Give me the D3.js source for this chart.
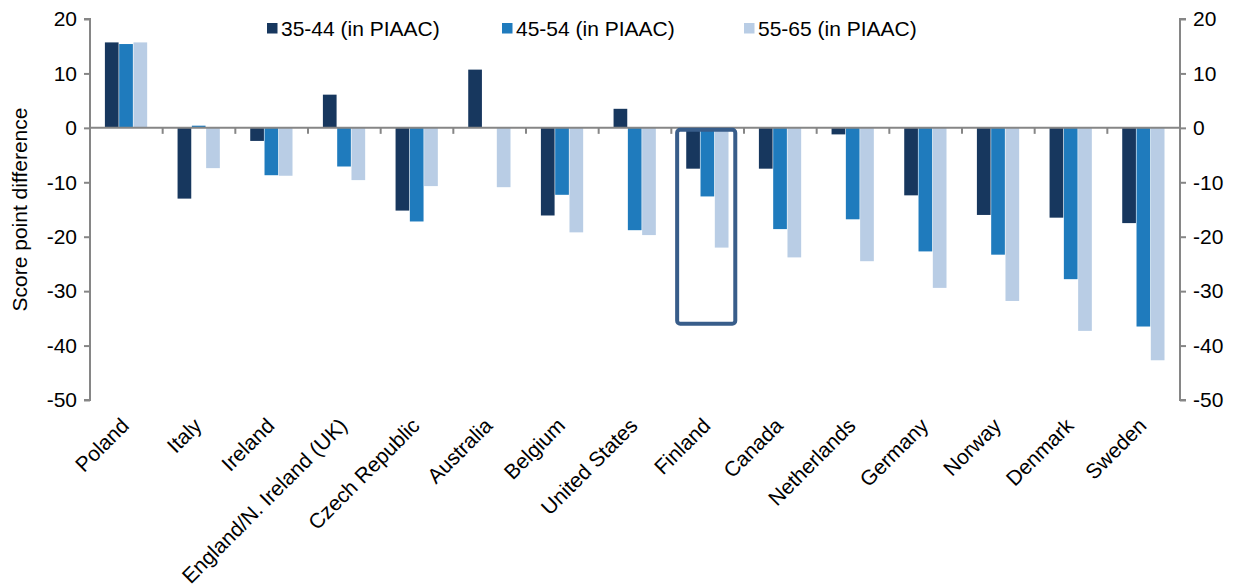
<!DOCTYPE html>
<html><head><meta charset="utf-8">
<script src="https://cdn.jsdelivr.net/npm/d3@7"></script>
<style>
html,body{margin:0;padding:0;background:#fff;}
text{font-family:"Liberation Sans",Arial,sans-serif;fill:#000;}
</style></head>
<body>
<svg id="chart" width="1236" height="584"></svg>
<script>
const categories = ["Poland","Italy","Ireland","England/N. Ireland (UK)","Czech Republic","Australia","Belgium","United States","Finland","Canada","Netherlands","Germany","Norway","Denmark","Sweden"];
const seriesNames = ["35-44 (in PIAAC)","45-54 (in PIAAC)","55-65 (in PIAAC)"];
const age3544 = [15.7, -13.0, -2.4, 6.1, -15.2, 10.7, -16.1, 3.5, -7.5, -7.5, -1.2, -12.4, -16.0, -16.5, -17.5];
const age4554 = [15.4, 0.4, -8.7, -7.1, -17.2, null, -12.3, -18.8, -12.6, -18.6, -16.8, -22.7, -23.3, -27.8, -36.5];
const age5565 = [15.7, -7.4, -8.8, -9.6, -10.7, -10.9, -19.2, -19.7, -22.0, -23.8, -24.5, -29.4, -31.8, -37.3, -42.7];
const yTicks = [20, 10, 0, -10, -20, -30, -40, -50];
const highlight = {category: "Finland", top: 0, bottom: -36};
const colors = ["#17375e", "#1f7bbd", "#b9cde5"];

const series = [age3544, age4554, age5565];
const svg = d3.select("#chart");
const L = 90, R = 1180, T = 19, B = 400;
const FS = 21;
const axisColor = "#868686";

const x0 = d3.scaleBand().domain(categories).range([L, R]).paddingInner(0).paddingOuter(0);
const bw = x0.bandwidth();
const groupW = bw * 0.59;
const x1 = d3.scaleBand().domain(d3.range(3)).range([(bw - groupW) / 2, (bw + groupW) / 2]);
const y = d3.scaleLinear().domain([-50, 20]).range([B, T]);

// bars
const g = svg.append("g");
categories.forEach((c, i) => {
  series.forEach((s, k) => {
    const v = s[i];
    if (v === null || v === undefined) return;
    g.append("rect")
      .attr("x", x0(c) + x1(k))
      .attr("width", x1.bandwidth() - 0.6)
      .attr("y", y(Math.max(0, v)))
      .attr("height", Math.abs(y(v) - y(0)))
      .attr("fill", colors[k]);
  });
});

// axes
const fmt = d => String(d);
const leftAxis = d3.axisLeft(y).tickValues(yTicks).tickSize(6).tickPadding(7).tickFormat(fmt);
const la = svg.append("g").attr("transform", `translate(${L},0)`).call(leftAxis);
const rightAxis = d3.axisRight(y).tickValues(yTicks).tickSize(6).tickPadding(7).tickFormat(fmt);
const ra = svg.append("g").attr("transform", `translate(${R},0)`).call(rightAxis);
[la, ra].forEach(a => {
  a.select(".domain").attr("stroke", axisColor).attr("stroke-width", 2);
  a.selectAll(".tick line").attr("stroke", axisColor).attr("stroke-width", 2);
  a.selectAll(".tick text").attr("font-size", FS).attr("font-family", "Liberation Sans, Arial, sans-serif").attr("fill", "#000");
});
la.select(".domain").attr("d", `M-6,${T}H0V${B}H-6`);
ra.select(".domain").attr("d", `M6,${T}H0V${B}H6`);

// zero line with category ticks
const xAxis = d3.axisBottom(x0).tickSize(0).tickFormat("");
const xa = svg.append("g").attr("transform", `translate(0,${y(0)})`).call(xAxis);
xa.select(".domain").attr("stroke", axisColor).attr("stroke-width", 2).attr("d", `M${L},0H${R}`);
categories.slice(1).forEach(c => {
  xa.append("line").attr("x1", x0(c)).attr("x2", x0(c)).attr("y1", 0).attr("y2", 6)
    .attr("stroke", axisColor).attr("stroke-width", 2);
});

// category labels
categories.forEach(c => {
  const cx = x0(c) + bw / 2;
  svg.append("text")
    .attr("transform", `translate(${cx + 4},${427}) rotate(-45)`)
    .attr("text-anchor", "end")
    .attr("font-size", FS)
    .text(c);
});

// y label
svg.append("text")
  .attr("transform", `translate(27,${(T + B) / 2}) rotate(-90)`)
  .attr("text-anchor", "middle")
  .attr("font-size", FS)
  .text("Score point difference");

// legend
const legendX = [267, 502, 744];
seriesNames.forEach((n, k) => {
  svg.append("rect").attr("x", legendX[k]).attr("y", 23).attr("width", 10.5).attr("height", 10.5).attr("fill", colors[k]);
  svg.append("text").attr("x", legendX[k] + 14).attr("y", 36).attr("font-size", FS).text(n);
});

// highlight box
const hx = x0(highlight.category);
svg.append("rect")
  .attr("x", hx + bw * 0.08)
  .attr("y", y(highlight.top) + 2)
  .attr("width", bw * 0.8)
  .attr("height", y(highlight.bottom) - y(highlight.top) - 2)
  .attr("rx", 3).attr("ry", 3)
  .attr("fill", "none")
  .attr("stroke", "#385d8a")
  .attr("stroke-width", 4);
</script>
</body></html>
